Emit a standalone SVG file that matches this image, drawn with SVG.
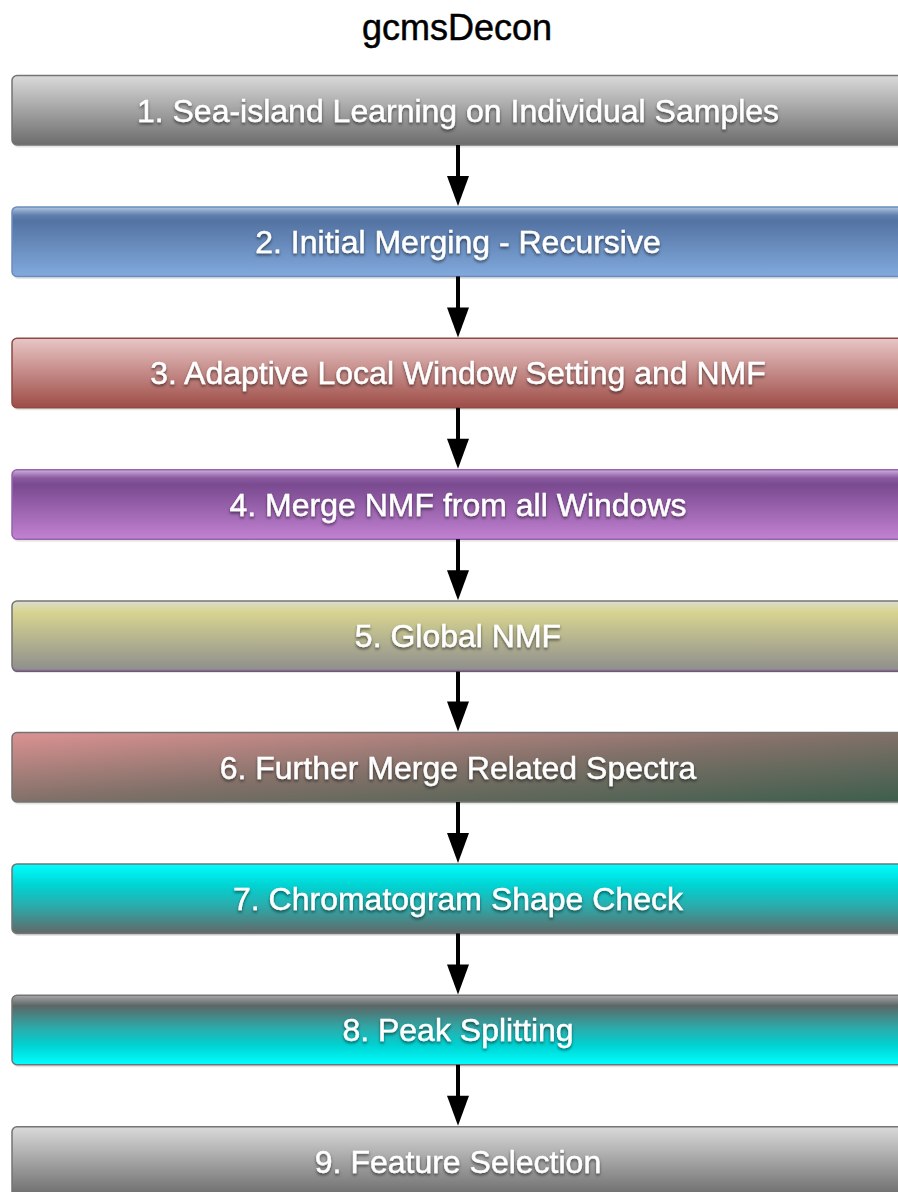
<svg xmlns="http://www.w3.org/2000/svg" width="898" height="1192" viewBox="0 0 898 1192">
<defs>
  <linearGradient id="gGray" x1="0" y1="0" x2="0" y2="1">
    <stop offset="0" stop-color="#dadada"/>
    <stop offset="1" stop-color="#6c6c6c"/>
  </linearGradient>
  <linearGradient id="gBlue" x1="0" y1="0" x2="0" y2="1">
    <stop offset="0" stop-color="#b4c8e4"/>
    <stop offset="0.12" stop-color="#5f80ae"/>
    <stop offset="0.2" stop-color="#5373a2"/>
    <stop offset="1" stop-color="#82aade"/>
  </linearGradient>
  <linearGradient id="gRed" x1="0" y1="0" x2="0" y2="1">
    <stop offset="0" stop-color="#e8c6c6"/>
    <stop offset="1" stop-color="#9e4c46"/>
  </linearGradient>
  <linearGradient id="gPurple" x1="0" y1="0" x2="0" y2="1">
    <stop offset="0" stop-color="#d0b0de"/>
    <stop offset="0.12" stop-color="#8a5aa0"/>
    <stop offset="0.22" stop-color="#7a4a90"/>
    <stop offset="1" stop-color="#c282d2"/>
  </linearGradient>
  <linearGradient id="gYellow" x1="0" y1="0" x2="0" y2="1">
    <stop offset="0" stop-color="#dcdcd2"/>
    <stop offset="0.15" stop-color="#d8d590"/>
    <stop offset="1" stop-color="#8e8e8e"/>
  </linearGradient>
  <linearGradient id="gMix" x1="0" y1="0" x2="1" y2="1">
    <stop offset="0" stop-color="#dc9292"/>
    <stop offset="0.5" stop-color="#807068"/>
    <stop offset="1" stop-color="#3c5e4c"/>
  </linearGradient>
  <linearGradient id="gCyanDown" x1="0" y1="0" x2="0" y2="1">
    <stop offset="0" stop-color="#00ffff"/>
    <stop offset="0.3" stop-color="#00d4d4"/>
    <stop offset="0.6" stop-color="#2aacac"/>
    <stop offset="1" stop-color="#626868"/>
  </linearGradient>
  <linearGradient id="gCyanUp" x1="0" y1="0" x2="0" y2="1">
    <stop offset="0" stop-color="#a8a8a8"/>
    <stop offset="0.15" stop-color="#5c6666"/>
    <stop offset="0.45" stop-color="#30a6a6"/>
    <stop offset="0.72" stop-color="#00d2d2"/>
    <stop offset="1" stop-color="#00ffff"/>
  </linearGradient>
  <filter id="ts" x="-5%" y="-30%" width="110%" height="160%">
    <feDropShadow dx="0" dy="2" stdDeviation="1.5" flood-color="#000" flood-opacity="0.55"/>
  </filter>
</defs>
<style>
  .box { stroke: #747474; stroke-width: 1.5; }
  .shadow { fill: #e6e6e6; }
  .lbl { font-family: "Liberation Sans", Arial, Helvetica, sans-serif; font-size: 32px; fill: #ffffff; stroke: #ffffff; stroke-width: 0.4; text-anchor: middle; filter: url(#ts); }
  .title { font-family: "Liberation Sans", Arial, Helvetica, sans-serif; font-size: 36px; fill: #000; stroke: #000; stroke-width: 0.5; text-anchor: middle; }
  .conn line { stroke: #000; stroke-width: 4; }
  .conn polygon { fill: #000; }
</style>
<rect width="898" height="1192" fill="#ffffff"/>
<text class="title" x="457" y="40">gcmsDecon</text>

<g id="node1" transform="translate(0,75.5)">
  <rect class="shadow" x="13" y="2" width="900" height="70" rx="5"/>
  <rect class="box" x="12" y="0" width="900" height="69.5" rx="5" fill="url(#gGray)"/>
  <text class="lbl" x="458" y="46">1. Sea-island Learning on Individual Samples</text>
</g>
<g id="node2" transform="translate(0,206.9)">
  <rect class="shadow" x="13" y="2" width="900" height="70" rx="5"/>
  <rect class="box" x="12" y="0" width="900" height="69.5" rx="5" fill="url(#gBlue)" style="stroke:#6c8cbc"/>
  <text class="lbl" x="458" y="46">2. Initial Merging - Recursive</text>
</g>
<g id="node3" transform="translate(0,338.3)">
  <rect class="shadow" x="13" y="2" width="900" height="70" rx="5"/>
  <rect class="box" x="12" y="0" width="900" height="69.5" rx="5" fill="url(#gRed)" style="stroke:#8e4a44"/>
  <text class="lbl" x="458" y="46">3. Adaptive Local Window Setting and NMF</text>
</g>
<g id="node4" transform="translate(0,469.7)">
  <rect class="shadow" x="13" y="2" width="900" height="70" rx="5"/>
  <rect class="box" x="12" y="0" width="900" height="69.5" rx="5" fill="url(#gPurple)" style="stroke:#9464ac"/>
  <text class="lbl" x="458" y="46">4. Merge NMF from all Windows</text>
</g>
<g id="node5" transform="translate(0,601.1)">
  <rect class="shadow" x="13" y="2" width="900" height="70" rx="5"/>
  <rect x="12" y="1.5" width="900" height="69.5" rx="5" fill="#8a3c9a"/>
  <rect class="box" x="12" y="0" width="900" height="69.5" rx="5" fill="url(#gYellow)"/>
  <text class="lbl" x="458" y="46">5. Global NMF</text>
</g>
<g id="node6" transform="translate(0,732.5)">
  <rect class="shadow" x="13" y="2" width="900" height="70" rx="5"/>
  <rect class="box" x="12" y="0" width="900" height="69.5" rx="5" fill="url(#gMix)"/>
  <text class="lbl" x="458" y="46">6. Further Merge Related Spectra</text>
</g>
<g id="node7" transform="translate(0,863.9)">
  <rect class="shadow" x="13" y="2" width="900" height="70" rx="5"/>
  <rect class="box" x="12" y="0" width="900" height="69.5" rx="5" fill="url(#gCyanDown)"/>
  <text class="lbl" x="458" y="46">7. Chromatogram Shape Check</text>
</g>
<g id="node8" transform="translate(0,995.3)">
  <rect class="shadow" x="13" y="2" width="900" height="70" rx="5"/>
  <rect class="box" x="12" y="0" width="900" height="69.5" rx="5" fill="url(#gCyanUp)"/>
  <text class="lbl" x="458" y="46">8. Peak Splitting</text>
</g>
<g id="node9" transform="translate(0,1126.7)">
  <rect class="box" x="12" y="0" width="900" height="69.5" rx="5" fill="url(#gGray)"/>
  <text class="lbl" x="458" y="46">9. Feature Selection</text>
</g>

<g id="connectors" class="conn">
  <g transform="translate(0,0)"><line x1="458" y1="145" x2="458" y2="178"/><polygon points="447,176 469,176 458,206"/></g>
  <g transform="translate(0,131.4)"><line x1="458" y1="145" x2="458" y2="178"/><polygon points="447,176 469,176 458,206"/></g>
  <g transform="translate(0,262.8)"><line x1="458" y1="145" x2="458" y2="178"/><polygon points="447,176 469,176 458,206"/></g>
  <g transform="translate(0,394.2)"><line x1="458" y1="145" x2="458" y2="178"/><polygon points="447,176 469,176 458,206"/></g>
  <g transform="translate(0,525.6)"><line x1="458" y1="146" x2="458" y2="178"/><polygon points="447,176 469,176 458,206"/></g>
  <g transform="translate(0,657)"><line x1="458" y1="145" x2="458" y2="178"/><polygon points="447,176 469,176 458,206"/></g>
  <g transform="translate(0,788.4)"><line x1="458" y1="145" x2="458" y2="178"/><polygon points="447,176 469,176 458,206"/></g>
  <g transform="translate(0,919.8)"><line x1="458" y1="145" x2="458" y2="178"/><polygon points="447,176 469,176 458,206"/></g>
</g>
</svg>
